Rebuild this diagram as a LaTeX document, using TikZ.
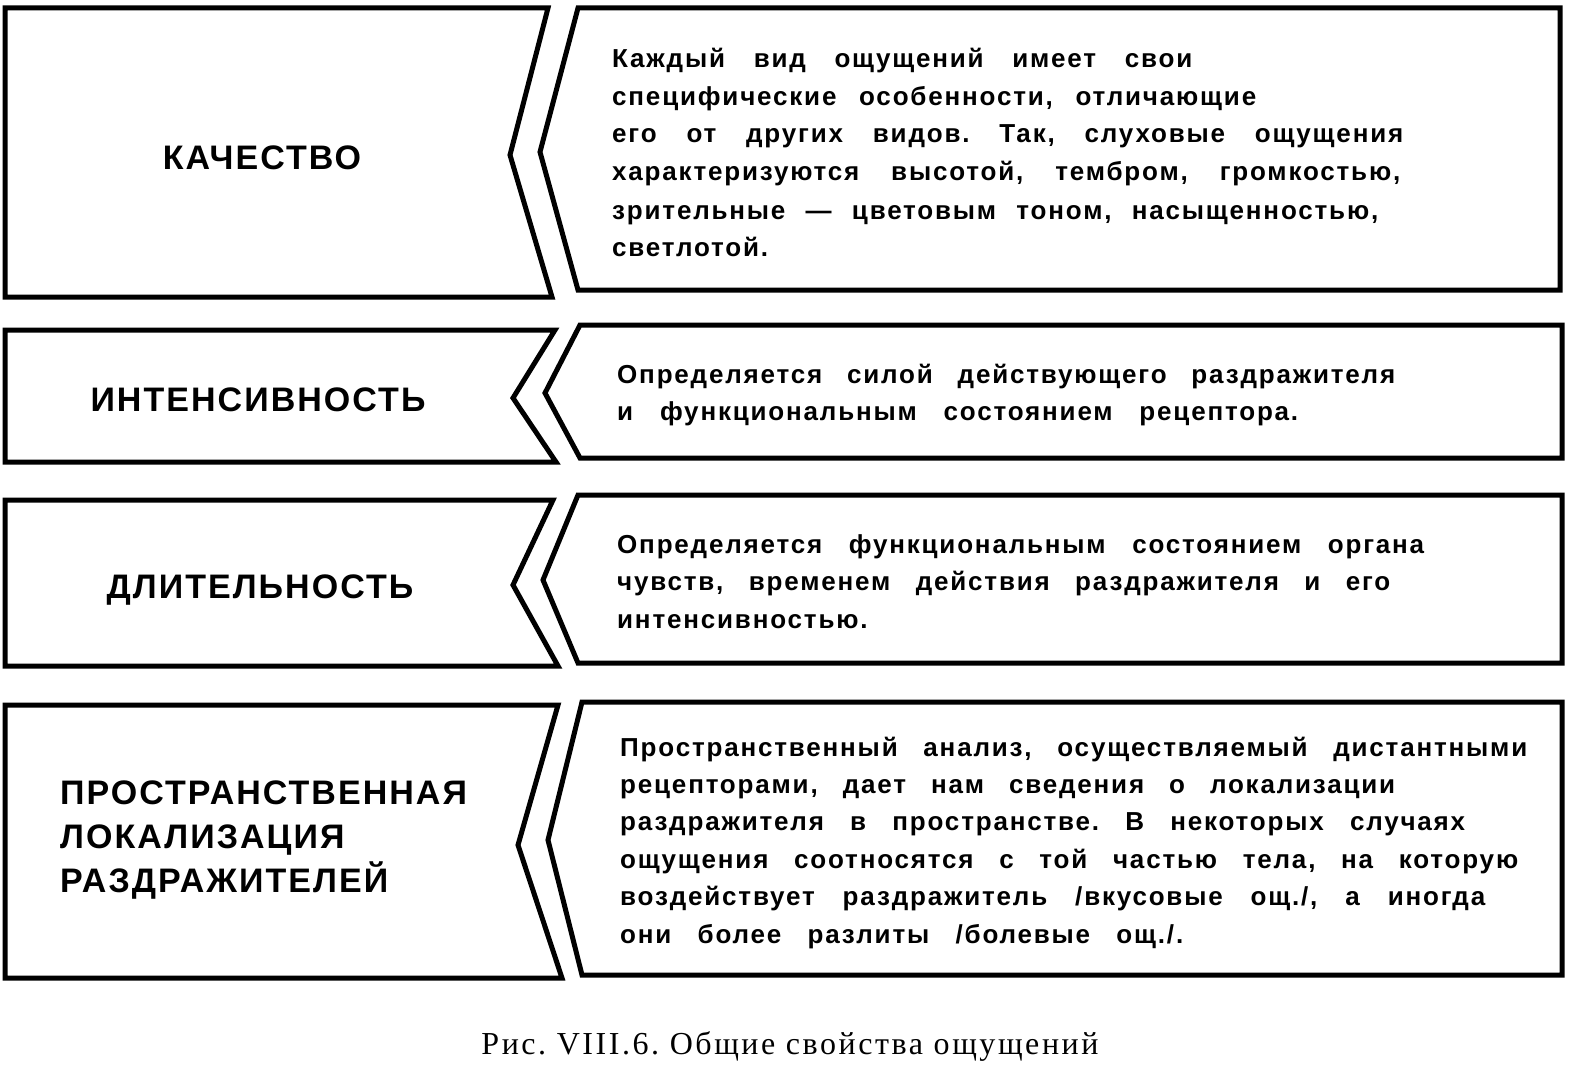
\documentclass[tikz,border=0pt]{standalone}
\usepackage{fontspec}
\setmainfont{Liberation Sans}
\newfontfamily\bodyf[LetterSpace=7]{Liberation Sans Bold}
\newfontfamily\titf[LetterSpace=6]{Liberation Sans Bold}
\newfontfamily\capf[LetterSpace=8]{Liberation Serif}
\frenchspacing
\begin{document}
\begin{tikzpicture}[x=1pt,y=-1pt,
  box/.style={draw=black,line width=5pt,line join=miter,fill=white},
  bt/.style={anchor=base west,inner sep=0pt,font=\bodyf\fontsize{26}{30}\selectfont},
  tt/.style={inner sep=0pt,font=\titf\fontsize{34}{44}\selectfont,align=left}]
\useasboundingbox (0,0) rectangle (1590,1078);
% row 1
\draw[box] (5,8) -- (548,8) -- (510,155) -- (552,297) -- (5,297) -- cycle;
\draw[box] (578,8) -- (1560,8) -- (1560,290) -- (578,290) -- (540,152) -- cycle;
% row 2
\draw[box] (5,330) -- (555,330) -- (513,398) -- (556,462) -- (5,462) -- cycle;
\draw[box] (580,325) -- (1562,325) -- (1562,458) -- (580,458) -- (545,393) -- cycle;
% row 3
\draw[box] (5,500) -- (553,500) -- (513,585) -- (558,666) -- (5,666) -- cycle;
\draw[box] (578,495) -- (1562,495) -- (1562,663) -- (578,663) -- (543,580) -- cycle;
% row 4
\draw[box] (5,705) -- (558,705) -- (518,845) -- (562,978) -- (5,978) -- cycle;
\draw[box] (582,702) -- (1562,702) -- (1562,975) -- (582,975) -- (548,840) -- cycle;
% titles
\node[tt] (t1) at (262,158) {КАЧЕСТВО};
\node[tt] (t2) at (258,400) {ИНТЕНСИВНОСТЬ};
\node[tt] (t3) at (260,590) {ДЛИТЕЛЬНОСТЬ};
\node[tt,anchor=west] (t4) at (60,840) {ПРОСТРАНСТВЕННАЯ\\ЛОКАЛИЗАЦИЯ\\РАЗДРАЖИТЕЛЕЙ};
% row1 text
\node[bt] (a1) at (612,68) {\makebox[580pt][s]{Каждый вид ощущений имеет свои}};
\node[bt] (a2) at (612,106) {\makebox[644pt][s]{специфические особенности, отличающие}};
\node[bt] (a3) at (612,143) {\makebox[791pt][s]{его от других видов. Так, слуховые ощущения}};
\node[bt] (a4) at (612,181) {\makebox[788pt][s]{характеризуются высотой, тембром, громкостью,}};
\node[bt] (a5) at (612,219) {\makebox[766pt][s]{зрительные — цветовым тоном, насыщенностью,}};
\node[bt] (a6) at (612,256) {светлотой.};
% row2
\node[bt] (b1) at (617,383) {\makebox[778pt][s]{Определяется силой действующего раздражителя}};
\node[bt] (b2) at (617,420) {\makebox[681pt][s]{и функциональным состоянием рецептора.}};
% row3
\node[bt] (c1) at (617,553) {\makebox[807pt][s]{Определяется функциональным состоянием органа}};
\node[bt] (c2) at (617,590) {\makebox[773pt][s]{чувств, временем действия раздражителя и его}};
\node[bt] (c3) at (617,628) {интенсивностью.};
% row4
\node[bt] (d1) at (620,756) {\makebox[907pt][s]{Пространственный анализ, осуществляемый дистантными}};
\node[bt] (d2) at (620,793) {\makebox[775pt][s]{рецепторами, дает нам сведения о локализации}};
\node[bt] (d3) at (620,830) {\makebox[845pt][s]{раздражителя в пространстве. В некоторых случаях}};
\node[bt] (d4) at (620,868) {\makebox[898pt][s]{ощущения соотносятся с той частью тела, на которую}};
\node[bt] (d5) at (620,905) {\makebox[865pt][s]{воздействует раздражитель /вкусовые ощ./, а иногда}};
\node[bt] (d6) at (620,943) {\makebox[563pt][s]{они более разлиты /болевые ощ./.}};
% caption
\node[inner sep=0pt,font=\capf\fontsize{32}{36}\selectfont] (cap) at (790,1046) {Рис. VIII.6. Общие свойства ощущений};
\end{tikzpicture}
\end{document}
